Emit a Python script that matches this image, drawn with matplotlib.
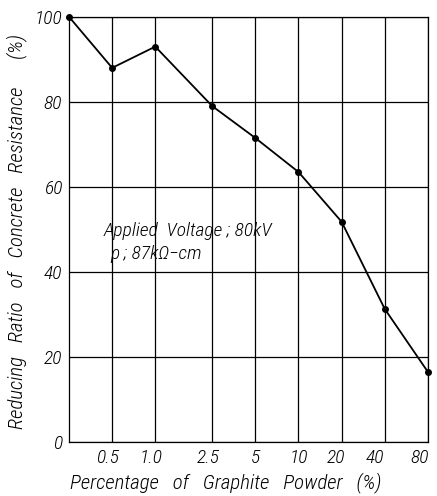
import matplotlib
matplotlib.use("Agg")
import matplotlib.pyplot as plt
from matplotlib import font_manager
from matplotlib.font_manager import FontProperties
import matplotlib.transforms as mtransforms

# Graphite content (%) on a log axis; the first point is the plain concrete reference
graphite_pct = [0.25, 0.5, 1.0, 2.5, 5, 10, 20, 40, 80]
reducing_ratio = [100, 88, 93, 79, 71.5, 63.5, 51.8, 31.3, 16.5]

x_ticks = [0.5, 1.0, 2.5, 5, 10, 20, 40, 80]
x_tick_labels = ["0.5", "1.0", "2.5", "5", "10", "20", "40", "80"]
y_ticks = [0, 20, 40, 60, 80, 100]


def narrow_italic_font():
    """Find a condensed italic sans face (light weight preferred)."""
    entries = font_manager.fontManager.ttflist
    for wanted in ["Roboto Condensed", "Liberation Sans Narrow", "DejaVu Sans Condensed",
                   "Open Sans Condensed", "Noto Sans Condensed"]:
        faces = [f for f in entries if f.name == wanted and f.style in ("italic", "oblique")]
        if faces:
            faces.sort(key=lambda f: abs((f.weight if isinstance(f.weight, int) else 400) - 300))
            return faces[0].fname
    return None


path = narrow_italic_font()


def fp(size):
    if path:
        return FontProperties(fname=path, size=size)
    return FontProperties(family=["Liberation Sans", "DejaVu Sans"], style="italic", size=size * 0.9)


fig = plt.figure(figsize=(4.37, 4.96), dpi=100)
ax = fig.add_axes([0.158, 0.109, 0.821, 0.857])

ax.set_xscale("log")
ax.set_xlim(0.25, 80)
ax.set_ylim(0, 100)

ax.plot(graphite_pct, reducing_ratio, color="black", lw=1.3,
        marker="o", ms=4, clip_on=False, zorder=3)

ax.set_xticks(x_ticks)
ax.set_xticklabels(x_tick_labels)
ax.xaxis.set_minor_locator(matplotlib.ticker.NullLocator())
ax.set_yticks(y_ticks)
ax.tick_params(length=0, pad=5)
for lab in ax.get_xticklabels() + ax.get_yticklabels():
    lab.set_fontproperties(fp(14))

# nudge the crowded right-hand tick labels to the left
shifts = [-3, -3, -3, 0, 0, -4, -7, -6]
for lab, dx in zip(ax.get_xticklabels(), shifts):
    lab.set_transform(lab.get_transform() +
                      mtransforms.ScaledTranslation(dx / 72, 0, fig.dpi_scale_trans))

ax.grid(True, color="black", lw=0.9)
for s in ax.spines.values():
    s.set_linewidth(0.9)

ax.set_xlabel("Percentage   of   Graphite   Powder   (%)", fontproperties=fp(15))
ax.xaxis.set_label_coords(0.437, -0.07)
ax.set_ylabel("Reducing   Ratio   of   Concrete   Resistance      (%)",
              fontproperties=fp(15))
ax.yaxis.set_label_coords(-0.118, 0.494)

ax.text(0.095, 0.485, "Applied  Voltage ; 80kV", fontproperties=fp(14),
        transform=ax.transAxes, va="baseline")
ax.text(0.114, 0.43, "ρ ; 87kΩ−cm", fontproperties=fp(14),
        transform=ax.transAxes, va="baseline")

fig.savefig("out.png", dpi=100, facecolor="white")
